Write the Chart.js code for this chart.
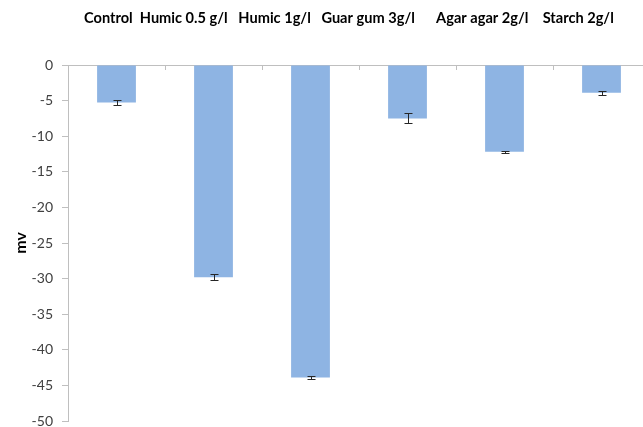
<!DOCTYPE html>
<html>
<head>
<meta charset="utf-8">
<script src="https://cdn.jsdelivr.net/npm/chart.js@4/dist/chart.umd.min.js"></script>
<style>
  html, body { margin: 0; padding: 0; background: #ffffff; overflow: hidden; }
  #wrap { width: 643px; height: 427px; overflow: hidden; }
  canvas { display: block; }
</style>
</head>
<body>
<div id="wrap"><canvas id="chart" width="660" height="427"></canvas></div>
<script>
// Treatments along the category axis
const categories = ['Control', 'Humic 0.5 g/l', 'Humic 1g/l', 'Guar gum 3g/l', 'Agar agar 2g/l', 'Starch 2g/l'];
// Measured potential (mV) per treatment
const values = [-5.25, -29.8, -43.9, -7.5, -12.2, -3.9];
// Standard error for each treatment
const errors = [0.4, 0.45, 0.2, 0.7, 0.1, 0.25];
// Header line above the plot, one entry per treatment with its spacing
const headerParts = ['Control', 'Humic 0.5 g/l', 'Humic 1g/l', 'Guar gum 3g/l', 'Agar agar 2g/l', 'Starch 2g/l'];
const headerGaps = ['  ', '   ', '   ', '      ', '    '];
// Value axis range
const yMin = -50, yMax = 0, yStep = 5;

const AXIS_GREY = '#bfbfbf';
const TEXT_GREY = '#404040';
const FONT = 'Lato, "Liberation Sans", sans-serif';

// Header text drawn above the plot area
const headerPlugin = {
  id: 'header',
  afterDraw(chart) {
    const ctx = chart.ctx;
    let text = '';
    headerParts.forEach((p, i) => { text += p + (headerGaps[i] || ''); });
    ctx.save();
    ctx.font = 'bold 14.6px ' + FONT;
    ctx.fillStyle = '#000000';
    ctx.textBaseline = 'middle';
    ctx.textAlign = 'left';
    ctx.fillText(text, chart.chartArea.left + 16, 18);
    ctx.restore();
  }
};

// Small tick marks hanging from the zero line at category boundaries
const catTickPlugin = {
  id: 'catTicks',
  afterDatasetsDraw(chart) {
    const x = chart.scales.x, ctx = chart.ctx;
    const n = categories.length;
    const w = (x.right - x.left) / n;
    ctx.save();
    ctx.strokeStyle = AXIS_GREY;
    ctx.lineWidth = 1;
    for (let i = 1; i <= n; i++) {
      const px = Math.round(x.left + i * w) + 0.5;
      ctx.beginPath();
      ctx.moveTo(px, x.bottom);
      ctx.lineTo(px, x.bottom + 5);
      ctx.stroke();
    }
    ctx.restore();
  }
};

// Error bars with caps
const errorBarPlugin = {
  id: 'errorBars',
  afterDatasetsDraw(chart) {
    const ctx = chart.ctx, y = chart.scales.y;
    const meta = chart.getDatasetMeta(0);
    ctx.save();
    ctx.strokeStyle = '#262626';
    ctx.lineWidth = 1;
    meta.data.forEach((bar, i) => {
      const cx = Math.round(bar.x) + 0.5;
      const y1 = Math.round(y.getPixelForValue(values[i] + errors[i])) + 0.5;
      const y2 = Math.round(y.getPixelForValue(values[i] - errors[i])) + 0.5;
      const cap = 4;
      ctx.beginPath();
      ctx.moveTo(cx, y1); ctx.lineTo(cx, y2);
      ctx.moveTo(cx - cap, y1); ctx.lineTo(cx + cap, y1);
      ctx.moveTo(cx - cap, y2); ctx.lineTo(cx + cap, y2);
      ctx.stroke();
    });
    ctx.restore();
  }
};

new Chart(document.getElementById('chart'), {
  type: 'bar',
  data: {
    labels: categories,
    datasets: [{
      data: values,
      backgroundColor: '#8eb4e3',
      borderWidth: 0,
      barPercentage: 0.4,
      categoryPercentage: 1.0
    }]
  },
  options: {
    responsive: false,
    animation: false,
    devicePixelRatio: 1,
    layout: { padding: { left: 0, right: 10, top: 65, bottom: 6 } },
    plugins: {
      legend: { display: false },
      title: { display: false },
      tooltip: { enabled: false }
    },
    scales: {
      x: {
        position: 'top',
        offset: true,
        grid: { display: true, drawOnChartArea: false, drawTicks: false, color: AXIS_GREY },
        border: { display: true, color: AXIS_GREY, width: 1 },
        ticks: { display: false },
        afterFit(scale) { scale.height = 0; scale.paddingLeft = 0; scale.paddingRight = 0; }
      },
      y: {
        min: yMin,
        max: yMax,
        ticks: {
          stepSize: yStep,
          color: TEXT_GREY,
          font: { family: FONT, size: 14 },
          padding: 9
        },
        grid: { drawOnChartArea: false, drawTicks: true, tickLength: 6, color: AXIS_GREY },
        border: { display: true, color: AXIS_GREY, width: 1 },
        title: {
          display: true,
          text: 'mv',
          color: '#000000',
          font: { family: FONT, size: 16, weight: 'bold' },
          padding: { top: 11, bottom: 0 }
        },
        afterFit(scale) { scale.width = 68; scale.paddingTop = 0; scale.paddingBottom = 0; }
      }
    }
  },
  plugins: [headerPlugin, catTickPlugin, errorBarPlugin]
});
</script>
</body>
</html>
